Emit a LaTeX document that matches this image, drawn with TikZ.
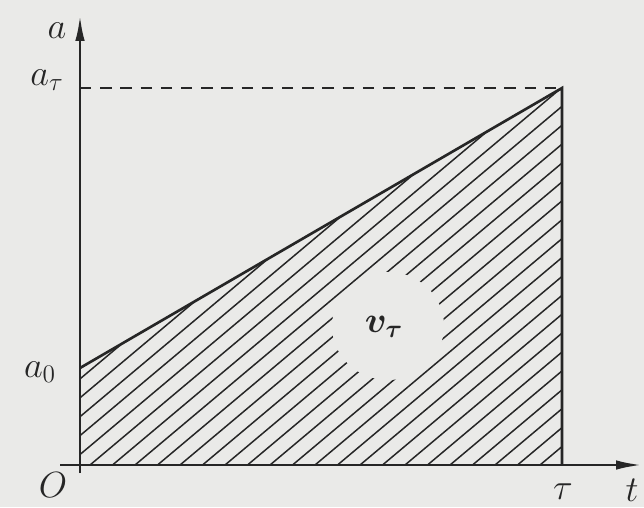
\documentclass[tikz,border=0pt]{standalone}
\usepackage{amsmath,bm}
\usetikzlibrary{arrows.meta}
\begin{document}
\begin{tikzpicture}[x=0.02cm,y=-0.02cm,
  axis/.style={line width=1.6pt,draw=ink,-{Latex[length=0.52cm,width=0.19cm]}},
  thick line/.style={line width=1.5pt,draw=ink},
  hatchline/.style={line width=0.85pt,draw=ink},
  dashline/.style={line width=1.5pt,draw=ink,dash pattern=on 6.5pt off 5pt},
  lbl/.style={text=ink,font=\fontsize{22}{26}\selectfont,inner sep=0pt}]
\definecolor{bg}{RGB}{234,234,232}
\definecolor{ink}{RGB}{38,38,38}
\fill[bg] (0,0) rectangle (644,507);
\useasboundingbox (0,0) rectangle (644,507);
% key points
\coordinate (O) at (80,465);
\coordinate (ybot) at (80,473);
\coordinate (ytop) at (80,15);
\coordinate (xstart) at (60,465);
\coordinate (xend) at (642,465);
\coordinate (A0) at (80,368);
\coordinate (AY) at (80,88);
\coordinate (AT) at (562,88);
\coordinate (T) at (562,465);
% hatching
\begin{scope}
  \clip (A0) -- (AT) -- (T) -- (O) -- cycle;
  \foreach \k in {-6,...,22}{
    \draw[hatchline] ({90+22.5*\k-100},{465+84}) -- ({90+22.5*\k+600},{465-504});
  }
\end{scope}
% blank patch around the label
\fill[bg] (388,326) ellipse [x radius=56, y radius=54];
\node[lbl] (vt) at (384,327) {$\bm{v_{\tau}}$};
% axes
\draw[axis] (ybot) -- (ytop);
\draw[axis] (xstart) -- (xend);
% graph lines
\draw[dashline] (AY) -- (AT);
\draw[thick line] (A0) -- (AT) -- (T);
% labels
\node[lbl] (la) at (57,31) {$a$};
\node[lbl] (laT) at (47,80) {$a_{\tau}$};
\node[lbl] (la0) at (40,372) {$a_0$};
\node[lbl] (lO) at (53,485) {$O$};
\node[lbl] (ltau) at (563,492) {$\tau$};
\node[lbl] (lt) at (632,490) {$t$};
\end{tikzpicture}
\end{document}
